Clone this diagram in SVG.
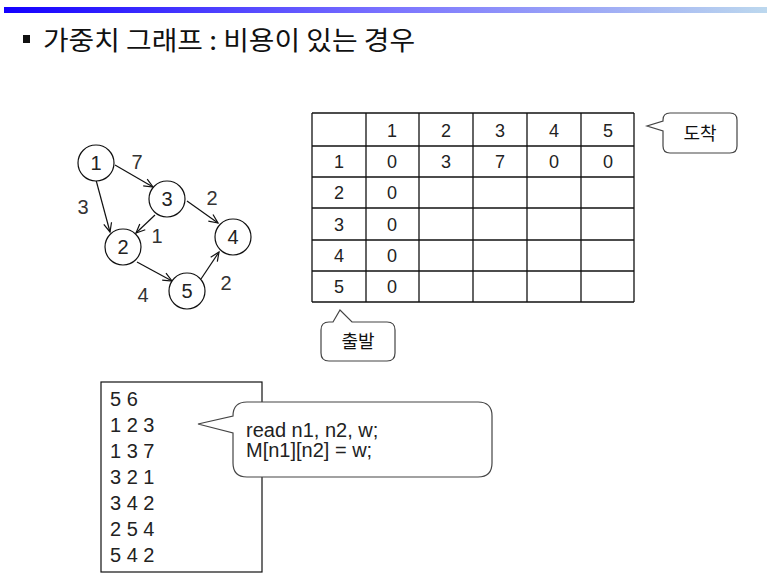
<svg xmlns="http://www.w3.org/2000/svg" width="767" height="580" viewBox="0 0 767 580">
<defs>
<linearGradient id="bar" x1="0" y1="0" x2="1" y2="0">
<stop offset="0" stop-color="#1400ff"/>
<stop offset="0.5" stop-color="#7a72ff"/>
<stop offset="1" stop-color="#bcd8ee"/>
</linearGradient>
<marker id="arr" markerUnits="userSpaceOnUse" markerWidth="12" markerHeight="12" refX="10" refY="5" orient="auto" viewBox="0 0 12 10">
<path d="M1,1 L10,5 L1,9" fill="none" stroke="#111" stroke-width="1.2"/>
</marker>
</defs>
<style>
.num{font-family:"Liberation Sans",Arial,sans-serif;fill:#222;text-anchor:middle}
.node circle{fill:#fff;stroke:#111;stroke-width:1.2}
.node text{font-size:20px}
.lbl{font-size:20px;fill:#333}
.cell{font-size:18px}
.grid line{stroke:#111;stroke-width:1.3}
.ko{font-family:"Noto Sans CJK KR",sans-serif;fill:#111}
.callout{fill:#fff;stroke:#444;stroke-width:1.2}
.code{font-family:"Liberation Sans",Arial,sans-serif;font-size:20px;fill:#222}
</style>
<rect x="4" y="7" width="763" height="6" fill="url(#bar)"/>
<rect x="23" y="35" width="7" height="8" fill="#111"/>
<text class="ko" x="43" y="50" font-size="26" textLength="372" lengthAdjust="spacingAndGlyphs">가중치 그래프 : 비용이 있는 경우</text>

<g id="connectors" fill="none" stroke="#111" stroke-width="1.2" marker-end="url(#arr)">
<line x1="115" y1="165" x2="153" y2="187"/>
<line x1="96" y1="180" x2="110" y2="232"/>
<line x1="155" y1="215" x2="136" y2="233"/>
<line x1="187" y1="201" x2="218" y2="223"/>
<line x1="137" y1="262" x2="172" y2="281"/>
<line x1="201" y1="279" x2="219" y2="252"/>
</g>
<g id="edge-labels" class="num">
<text class="lbl" x="137" y="169">7</text>
<text class="lbl" x="83" y="214">3</text>
<text class="lbl" x="212" y="205">2</text>
<text class="lbl" x="157" y="243">1</text>
<text class="lbl" x="143" y="302">4</text>
<text class="lbl" x="226" y="290">2</text>
</g>
<g id="node1" class="node num"><circle cx="96" cy="163" r="18"/><text x="96" y="170">1</text></g>
<g id="node3" class="node num"><circle cx="167" cy="199" r="18"/><text x="167" y="206">3</text></g>
<g id="node2" class="node num"><circle cx="123" cy="247" r="18"/><text x="123" y="254">2</text></g>
<g id="node4" class="node num"><circle cx="233" cy="237" r="18"/><text x="233" y="244">4</text></g>
<g id="node5" class="node num"><circle cx="187" cy="291" r="18"/><text x="187" y="298">5</text></g>

<g id="matrix">
<g class="grid">
<line x1="312" y1="113" x2="634" y2="113"/>
<line x1="312" y1="146" x2="634" y2="146"/>
<line x1="312" y1="177" x2="634" y2="177"/>
<line x1="312" y1="208" x2="634" y2="208"/>
<line x1="312" y1="240" x2="634" y2="240"/>
<line x1="312" y1="271" x2="634" y2="271"/>
<line x1="312" y1="302" x2="634" y2="302"/>
<line x1="312" y1="113" x2="312" y2="302"/>
<line x1="366" y1="113" x2="366" y2="302"/>
<line x1="419" y1="113" x2="419" y2="302"/>
<line x1="473" y1="113" x2="473" y2="302"/>
<line x1="527" y1="113" x2="527" y2="302"/>
<line x1="581" y1="113" x2="581" y2="302"/>
<line x1="634" y1="113" x2="634" y2="302"/>
</g>
<g class="num cell">
<text x="392" y="137">1</text><text x="446" y="137">2</text><text x="500" y="137">3</text><text x="554" y="137">4</text><text x="608" y="137">5</text>
<text x="339" y="168">1</text><text x="392" y="168">0</text><text x="446" y="168">3</text><text x="500" y="168">7</text><text x="554" y="168">0</text><text x="608" y="168">0</text>
<text x="339" y="199">2</text><text x="392" y="199">0</text>
<text x="339" y="231">3</text><text x="392" y="231">0</text>
<text x="339" y="262">4</text><text x="392" y="262">0</text>
<text x="339" y="293">5</text><text x="392" y="293">0</text>
</g>
</g>

<g id="callout-arrive">
<path class="callout" d="M670,113 H730 Q737,113 737,120 V146 Q737,153 730,153 H670 Q663,153 663,146 V131 L647,126 L663,121 V120 Q663,113 670,113 Z"/>
<text class="ko" x="700" y="140" font-size="18" text-anchor="middle">도착</text>
</g>
<g id="callout-depart">
<path class="callout" d="M329,322 H333 L340,310 L352,322 H387 Q395,322 395,330 V353 Q395,361 387,361 H329 Q321,361 321,353 V330 Q321,322 329,322 Z"/>
<text class="ko" x="358" y="348" font-size="18" text-anchor="middle">출발</text>
</g>

<g id="input-box">
<rect x="101" y="382" width="161" height="190" fill="#fff" stroke="#111" stroke-width="1.2"/>
<text class="code" x="110" y="406">5 6</text>
<text class="code" x="110" y="432">1 2 3</text>
<text class="code" x="110" y="458">1 3 7</text>
<text class="code" x="110" y="484">3 2 1</text>
<text class="code" x="110" y="510">3 4 2</text>
<text class="code" x="110" y="536">2 5 4</text>
<text class="code" x="110" y="562">5 4 2</text>
</g>
<g id="callout-code">
<path class="callout" d="M247,402 H478 Q492,402 492,416 V463 Q492,477 478,477 H247 Q233,477 233,463 V433 L198,424 L233,416 Q233,402 247,402 Z"/>
<text class="code" x="246" y="437" font-size="17">read n1, n2, w;</text>
<text class="code" x="246" y="457" font-size="17">M[n1][n2] = w;</text>
</g>
</svg>
